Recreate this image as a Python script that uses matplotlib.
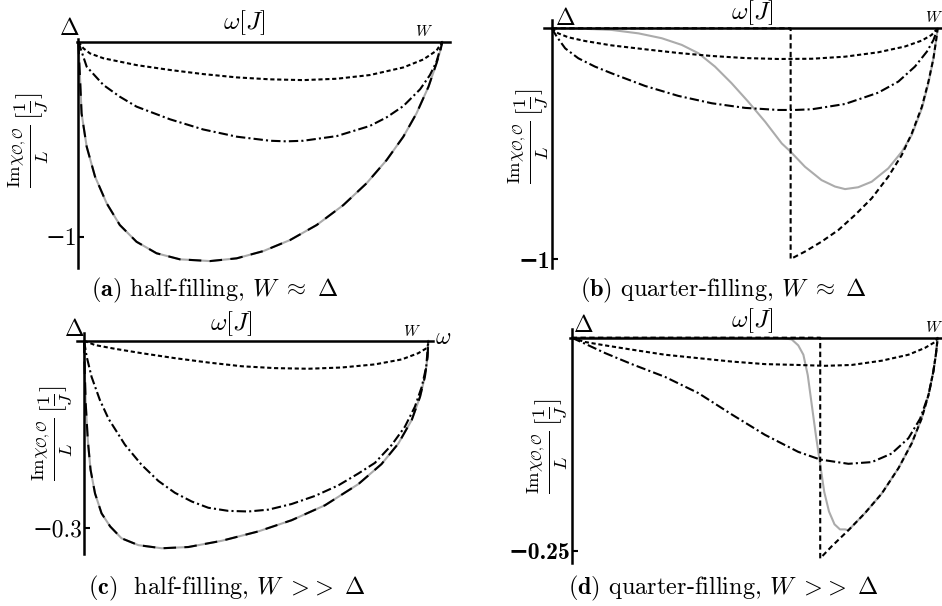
import matplotlib
matplotlib.use("Agg")
import matplotlib.pyplot as plt

plt.rcParams["mathtext.fontset"] = "cm"
plt.rcParams["font.family"] = "cmr10"
plt.rcParams["axes.unicode_minus"] = False

W_PX, H_PX = 942, 606

# ---------------- data (omega scaled so that Delta = 0, W = 1) ----------------
# (a) half-filling, W ~ Delta
a_dot_x = [0, 0.014, 0.032, 0.069, 0.160, 0.252, 0.343, 0.435, 0.527, 0.618, 0.710, 0.801, 0.893, 0.948, 0.984, 1.0]
a_dot_y = [0, -0.034, -0.060, -0.085, -0.120, -0.145, -0.166, -0.183, -0.193, -0.197, -0.190, -0.171, -0.132, -0.091, -0.046, 0]
a_dd_x = [0, 0.023, 0.069, 0.114, 0.160, 0.252, 0.343, 0.435, 0.527, 0.572, 0.618, 0.710, 0.801, 0.847, 0.893, 0.939, 0.966, 0.984, 1.0]
a_dd_y = [0, -0.128, -0.222, -0.282, -0.333, -0.398, -0.450, -0.487, -0.508, -0.511, -0.508, -0.484, -0.432, -0.388, -0.330, -0.244, -0.171, -0.103, 0]
a_dash_x = [0, 0.005, 0.009, 0.023, 0.046, 0.078, 0.114, 0.160, 0.215, 0.279, 0.362, 0.435, 0.508, 0.582, 0.655,
            0.728, 0.792, 0.847, 0.893, 0.929, 0.962, 0.984, 0.995, 1.0]
a_dash_y = [0, -0.197, -0.368, -0.538, -0.692, -0.829, -0.940, -1.026, -1.085, -1.116, -1.125, -1.111, -1.074, -1.017,
            -0.940, -0.838, -0.726, -0.607, -0.487, -0.368, -0.231, -0.111, -0.043, 0]

# (b) quarter-filling, W ~ Delta
b_dot_x = [0, 0.017, 0.043, 0.086, 0.155, 0.242, 0.328, 0.415, 0.501, 0.587, 0.674, 0.760, 0.846, 0.915, 0.959, 0.984, 1.0]
b_dot_y = [0, -0.022, -0.039, -0.055, -0.074, -0.091, -0.107, -0.120, -0.129, -0.133, -0.132, -0.123, -0.104, -0.079, -0.053, -0.029, 0]
b_dd_x = [0, 0.013, 0.035, 0.069, 0.112, 0.155, 0.242, 0.328, 0.415, 0.501, 0.587, 0.630, 0.674, 0.760, 0.846, 0.898,
          0.941, 0.972, 0.989, 1.0]
b_dd_y = [0, -0.036, -0.087, -0.130, -0.166, -0.195, -0.250, -0.293, -0.325, -0.345, -0.354, -0.354, -0.351, -0.328,
          -0.279, -0.231, -0.166, -0.101, -0.051, 0]
b_dash_x = [0, 0.619, 0.619, 0.656, 0.699, 0.743, 0.786, 0.829, 0.872, 0.907, 0.933, 0.959, 0.976, 0.989, 0.996, 1.0]
b_dash_y = [0, 0, -1.0, -0.968, -0.925, -0.874, -0.809, -0.737, -0.643, -0.549, -0.455, -0.340, -0.231, -0.130, -0.051, 0]
b_gray_x = [0, 0.069, 0.155, 0.225, 0.285, 0.337, 0.380, 0.423, 0.466, 0.509, 0.553, 0.596, 0.619, 0.656, 0.699, 0.734,
            0.760, 0.794, 0.829, 0.872, 0.907, 0.933, 0.959, 0.976, 0.989, 0.996, 1.0]
b_gray_y = [0, -0.001, -0.007, -0.022, -0.043, -0.072, -0.108, -0.166, -0.238, -0.318, -0.405, -0.499, -0.535, -0.600,
            -0.658, -0.686, -0.697, -0.689, -0.665, -0.607, -0.535, -0.462, -0.347, -0.238, -0.130, -0.051, 0]

# (c) half-filling, W >> Delta
c_dot_x = [0, 0.032, 0.090, 0.167, 0.264, 0.361, 0.458, 0.555, 0.652, 0.748, 0.845, 0.923, 0.971, 0.995, 1.0]
c_dot_y = [0, -0.007, -0.013, -0.020, -0.028, -0.035, -0.041, -0.044, -0.045, -0.043, -0.038, -0.030, -0.020, -0.012, -0.005]
c_dd_x = [0, 0.008, 0.022, 0.046, 0.071, 0.119, 0.167, 0.216, 0.264, 0.313, 0.361, 0.419, 0.477, 0.536, 0.603, 0.671,
          0.739, 0.797, 0.845, 0.894, 0.932, 0.961, 0.981, 0.994, 1.0]
c_dd_y = [0, -0.026, -0.058, -0.095, -0.125, -0.167, -0.199, -0.225, -0.244, -0.258, -0.268, -0.273, -0.274, -0.271,
          -0.262, -0.249, -0.232, -0.213, -0.196, -0.167, -0.138, -0.106, -0.074, -0.042, 0]
c_dash_x = [0, 0.002, 0.005, 0.011, 0.019, 0.032, 0.051, 0.076, 0.109, 0.158, 0.226, 0.303, 0.400, 0.506, 0.603, 0.700,
            0.797, 0.864, 0.913, 0.952, 0.976, 0.990, 0.998, 1.0]
c_dash_y = [0, -0.047, -0.101, -0.159, -0.207, -0.245, -0.277, -0.298, -0.317, -0.328, -0.333, -0.331, -0.321, -0.306,
            -0.288, -0.264, -0.230, -0.198, -0.165, -0.127, -0.090, -0.058, -0.026, 0]

# (d) quarter-filling, W >> Delta
d_dot_x = [0, 0.036, 0.091, 0.164, 0.255, 0.346, 0.437, 0.528, 0.619, 0.692, 0.765, 0.847, 0.920, 0.965, 0.993, 1.0]
d_dot_y = [0, -0.005, -0.009, -0.014, -0.020, -0.024, -0.028, -0.031, -0.032, -0.033, -0.032, -0.027, -0.020, -0.012, -0.005, 0]
d_dd_x = [0, 0.036, 0.091, 0.164, 0.255, 0.346, 0.437, 0.528, 0.619, 0.679, 0.756, 0.820, 0.874, 0.920, 0.952, 0.975,
          0.988, 0.995, 1.0]
d_dd_y = [0, -0.007, -0.018, -0.031, -0.046, -0.065, -0.090, -0.114, -0.134, -0.143, -0.148, -0.146, -0.136, -0.118,
          -0.095, -0.067, -0.040, -0.020, 0]
d_dash_x = [0, 0.679, 0.679, 0.710, 0.756, 0.801, 0.847, 0.893, 0.929, 0.956, 0.975, 0.988, 0.995, 1.0]
d_dash_y = [0, 0, -0.259, -0.245, -0.226, -0.206, -0.183, -0.153, -0.124, -0.095, -0.067, -0.040, -0.020, 0]
d_gray_x = [0, 0.528, 0.574, 0.601, 0.619, 0.633, 0.645, 0.656, 0.667, 0.679, 0.690, 0.703, 0.718, 0.733, 0.747, 0.756,
            0.801, 0.847, 0.893, 0.929, 0.956, 0.975, 0.988, 0.995, 1.0]
d_gray_y = [0, 0, -0.0004, -0.002, -0.009, -0.020, -0.044, -0.079, -0.114, -0.149, -0.181, -0.204, -0.219, -0.225,
            -0.225, -0.226, -0.206, -0.183, -0.153, -0.124, -0.095, -0.067, -0.040, -0.020, 0]

# ---------------- layout helpers ----------------
def rect(x0, x1, y0, tick_px, tick_val, xlim, ylim):
    sx = x1 - x0
    sy = (tick_px - y0) / (-tick_val)
    left = x0 + xlim[0] * sx
    right = x0 + xlim[1] * sx
    top = y0 - ylim[1] * sy
    bottom = y0 - ylim[0] * sy
    return [left / W_PX, 1 - bottom / H_PX, (right - left) / W_PX, (bottom - top) / H_PX]


def ftxt(fig, x, y, s, size, **kw):
    fig.text(x / W_PX, 1 - y / H_PX, s, fontsize=size, ha="center", va="center", **kw)


DOT = (0, (2, 1.3))
DASHDOT = (0, (4.5, 1.5, 1, 1.5))
LW = 1.5

fig = plt.figure(figsize=(W_PX / 100, H_PX / 100), dpi=100)

panels = [
    dict(dot=(a_dot_x, a_dot_y), dd=(a_dd_x, a_dd_y), dash=(a_dash_x, a_dash_y), gray=(a_dash_x, a_dash_y),
         geo=(78.3, 442.3, 41.7, 236.7, -1.0), xlim=(-0.003, 1.021), ylim=(-1.16, 0.015),
         tick="\u22121", bold=False, dash_style=(0, (6, 4))),
    dict(dot=(b_dot_x, b_dot_y), dd=(b_dd_x, b_dd_y), dash=(b_dash_x, b_dash_y), gray=(b_gray_x, b_gray_y),
         geo=(551.7, 937.7, 28.3, 259.0, -1.0), xlim=(-0.02, 1.008), ylim=(-1.04, 0.036),
         tick="\u22121", bold=True, dash_style=(0, (2.6, 1.6))),
    dict(dot=(c_dot_x, c_dot_y), dd=(c_dd_x, c_dd_y), dash=(c_dash_x, c_dash_y), gray=(c_dash_x, c_dash_y),
         geo=(84.0, 428.3, 340.7, 527.7, -0.3), xlim=(-0.02, 1.014), ylim=(-0.342, 0.012),
         tick="\u22120.3", bold=False, dash_style=(0, (6, 4))),
    dict(dot=(d_dot_x, d_dot_y), dd=(d_dd_x, d_dd_y), dash=(d_dash_x, d_dash_y), gray=(d_gray_x, d_gray_y),
         geo=(571.7, 937.7, 337.7, 550.7, -0.25), xlim=(-0.006, 1.008), ylim=(-0.264, 0.010),
         tick="\u22120.25", bold=True, dash_style=(0, (2.6, 1.6))),
]

for p in panels:
    ax = fig.add_axes(rect(*p["geo"], p["xlim"], p["ylim"]))
    ax.plot(*p["gray"], color="#ababab", lw=LW, solid_capstyle="round")
    ax.plot(*p["dash"], color="black", lw=LW, linestyle=p["dash_style"])
    ax.plot(*p["dd"], color="black", lw=LW, linestyle=DASHDOT)
    ax.plot(*p["dot"], color="black", lw=LW, linestyle=DOT)
    ax.set_xlim(*p["xlim"])
    ax.set_ylim(*p["ylim"])
    ax.patch.set_alpha(0)
    for s in ["top", "right"]:
        ax.spines[s].set_visible(False)
    ax.spines["left"].set_position(("data", 0))
    ax.spines["bottom"].set_position(("data", 0))
    ax.spines["left"].set_linewidth(1.8)
    ax.spines["bottom"].set_linewidth(1.8)
    ax.set_xticks([])
    tv = p["geo"][4]
    ax.set_yticks([tv])
    if p["bold"]:
        ax.set_yticklabels([p["tick"]], family=["cmb10", "DejaVu Serif"], fontweight="bold")
    else:
        ax.set_yticklabels([p["tick"]], family=["cmr10", "DejaVu Serif"])
    ax.tick_params(axis="y", direction="in", length=4, width=1.5, pad=1, labelsize=17)

ylab = r"$\frac{\mathrm{Im}\chi_{\mathcal{O},\mathcal{O}}}{L}\,[\frac{1}{J}]$"
CAP = 17.5
LAB = 18

# panel (a)
ftxt(fig, 69, 29, r"$\Delta$", 17)
ftxt(fig, 244, 23, r"$\omega[J]$", LAB)
ftxt(fig, 424, 31, r"$W$", 11)
ftxt(fig, 28, 140, ylab, 19, rotation=90)
ftxt(fig, 215, 290, r"$\mathbf{(a)}$ half-filling, $W\ \approx\ \Delta$", CAP)

# panel (b)
ftxt(fig, 565, 19, r"$\Delta$", 17)
ftxt(fig, 752, 13, r"$\omega[J]$", LAB)
ftxt(fig, 934, 17, r"$W$", 11)
ftxt(fig, 528, 136, ylab, 19, rotation=90)
ftxt(fig, 723, 290, r"$\mathbf{(b)}$ quarter-filling, $W\ \approx\ \Delta$", CAP)

# panel (c)
ftxt(fig, 74, 330, r"$\Delta$", 17)
ftxt(fig, 231, 324, r"$\omega[J]$", LAB)
ftxt(fig, 412, 331, r"$W$", 11)
ftxt(fig, 443, 338, r"$\omega$", 17)
ftxt(fig, 52, 433, ylab, 19, rotation=90)
ftxt(fig, 227, 588, r"$\mathbf{(c)}$  half-filling, $W\ {>}\!{>}\ \Delta$", CAP)

# panel (d)
ftxt(fig, 583, 326, r"$\Delta$", 17)
ftxt(fig, 752, 321, r"$\omega[J]$", LAB)
ftxt(fig, 934, 328, r"$W$", 11)
ftxt(fig, 547, 446, ylab, 19, rotation=90)
ftxt(fig, 723, 588, r"$\mathbf{(d)}$ quarter-filling, $W\ {>}\!{>}\ \Delta$", CAP)

fig.savefig("out.png", dpi=100)
